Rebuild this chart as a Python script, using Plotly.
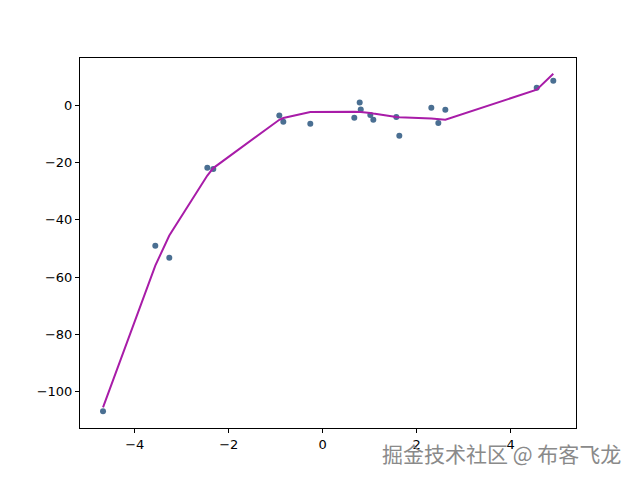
import plotly.graph_objects as go

# scatter samples
x_pts = [-4.674, -3.562, -3.264, -2.455, -2.328, -0.923, -0.838, -0.264, 0.672, 0.787,
         0.809, 1.013, 1.077, 1.566, 1.630, 2.311, 2.460, 2.609, 4.553, 4.906]
y_pts = [-106.9, -49.1, -53.3, -21.8, -22.2, -3.5, -5.7, -6.4, -4.3, 1.05,
         -1.4, -3.3, -5.0, -4.0, -10.6, -0.8, -6.1, -1.5, 6.2, 8.6]

# fitted line values at the same x (sorted)
y_fit = [-105.6, -56.0, -45.5, -24.5, -21.9, -5.0, -4.4, -2.3, -2.2, -2.2,
         -2.3, -2.6, -2.8, -4.0, -4.1, -4.6, -4.8, -5.0, 5.5, 11.1]

x_ticks = [-4, -2, 0, 2, 4]
y_ticks = [-100, -80, -60, -40, -20, 0]

fig = go.Figure()

fig.add_trace(go.Scatter(
    x=x_pts, y=y_pts, mode="markers",
    marker=dict(size=6, color="#4a6f92"),
    showlegend=False))

fig.add_trace(go.Scatter(
    x=x_pts, y=y_fit, mode="lines",
    line=dict(width=2, color="#a81ca8"),
    showlegend=False))

axis_style = dict(showgrid=False, zeroline=False, showline=True, linecolor="black",
                  linewidth=1, mirror=True, ticks="outside", ticklen=4,
                  tickcolor="black", tickfont=dict(size=13, color="black"))

fig.update_xaxes(range=[-5.164, 5.389], tickvals=x_ticks, **axis_style)
fig.update_yaxes(range=[-112.8, 16.6], tickvals=y_ticks, **axis_style)

# watermark (overlaps the tick labels, as in the original)
fig.add_annotation(text="掘金技术社区 @ 布客飞龙", xref="paper", yref="paper",
                   x=0.849, y=-0.067, xanchor="center", yanchor="middle",
                   showarrow=False,
                   font=dict(size=21, color="#8a8a8a", family="Noto Sans CJK SC"))

# page body adds an 8px offset, so margins are shifted to compensate
fig.update_layout(width=640, height=480,
                  margin=dict(l=72, r=72, t=50, b=60),
                  plot_bgcolor="white", paper_bgcolor="white",
                  font=dict(family="DejaVu Sans"))

fig.write_html("out.html")
